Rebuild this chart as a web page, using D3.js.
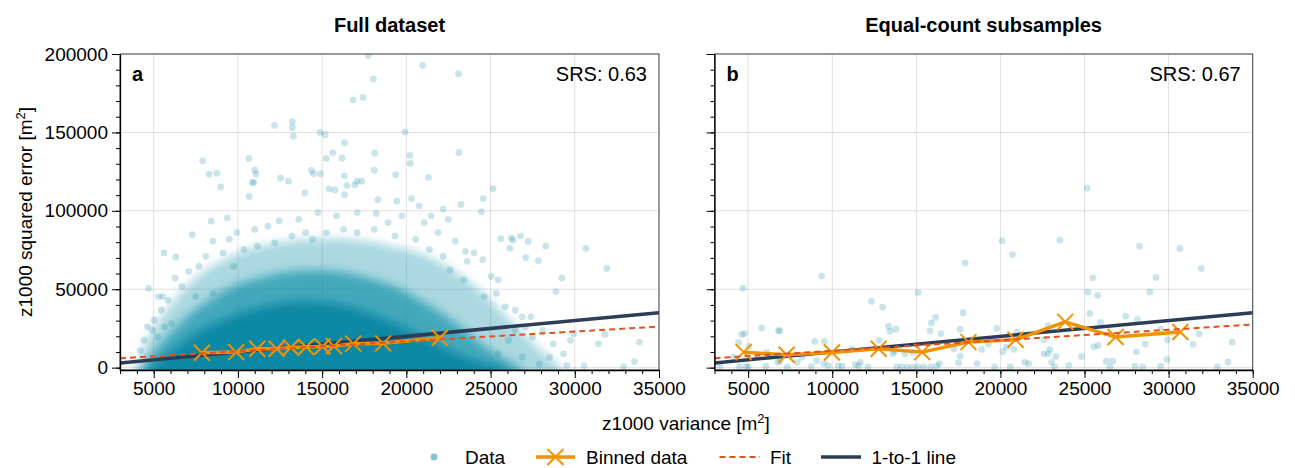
<!DOCTYPE html>
<html>
<head>
<meta charset="utf-8">
<script src="https://d3js.org/d3.v7.min.js"></script>
<style>
  body { margin: 0; background: #fff; }
  svg { font-family: "Liberation Sans", Arial, sans-serif; }
  .tick text { font-size: 19px; fill: #000; }
</style>
</head>
<body>
<svg id="chart" width="1295" height="468"></svg>
<script>
// ---- data ----
const xTicks = [5000, 10000, 15000, 20000, 25000, 30000, 35000];
const yTicks = [0, 50000, 100000, 150000, 200000];

// panel a: sparse points around the dense cloud [variance, squared error]
const fullPoints = [
  [20960,192800],[23100,187400],[18040,184000],[17740,199000],[16840,170800],[17430,172300],
  [12180,154500],[13230,156800],[13230,153200],[13290,147600],[14880,150000],[15190,148500],
  [19920,150200],[16330,143400],[23120,137200],[15630,137000],[15250,133400],[16180,133600],
  [18120,136800],[20210,135300],[20230,130200],[7900,131900],[10650,133400],[8290,123400],
  [8740,124000],[11000,125900],[11080,123400],[14370,125700],[14490,123600],[14900,123600],
  [18100,125900],[16310,122300],[19370,123000],[21310,121300],[12530,120800],[13000,118900],
  [10940,118100],[17080,118900],[17350,118900],
  [8980,115200],[10860,118200],[13980,111400],[15410,114000],[15760,113300],[16470,116100],
  [16330,110300],[16940,116500],[25150,114200],[24570,107900],[23250,104100],[24450,99400],
  [20310,107900],[19430,106200],[18310,107100],[10670,109200],[8410,93400],[7290,84800],
  [9370,95500],[5610,73200],[6310,70600],[4690,50600],[5290,45300],[5530,45300],
  [22190,101100],[26230,82600],[26330,81300],[25610,82200],[26780,83900],[27230,80500],
  [28270,77500],[30660,76000],[31900,63300],[29230,57100],[27840,68200],[28880,48500],
  [27100,70200],[26150,76200],[33840,16300],[33550,3900],[32900,500],[31800,21200],
  [31410,15200],[29940,21700],[29740,17400],[29330,8800],
  [9490,81800],[9940,86100],[11000,88200],[11780,90300],[12450,93600],[13610,94600],
  [14020,86100],[14740,98900],[15860,96800],[17080,98900],[18210,98300],[18920,92500],
  [19740,96800],[20760,103200],[21470,96800],[22490,94600],[21060,92500],[21880,86100],
  [22900,80700],[23510,74200],[24020,73200],[24530,68900],[23610,67800],[25040,58200],
  [25450,56000],[25350,47400],[24630,45300],[25860,38800],[26470,36700],[26880,32400],
  [27390,32400],[28100,23800],[27490,19500],[28720,15200],[27080,26000],[26470,23800],
  [26060,17400],[28510,6700],[27900,2400],[29530,1300],[30550,1300],[26880,6700],
  [25450,8800],[23410,56000],[22590,62400],[22190,71000],[21370,75300],[20550,81800],
  [19330,83900],[18100,88200],[17080,86100],[16270,88200],[15250,86100],[14430,81800],
  [13210,83900],[12180,79600],[11160,77500],[10350,75300],[9120,73200],[8510,80700],
  [8100,71000],[7690,64600],[7080,61400],[6270,57100],[6670,51700],[5860,43100],
  [5450,36700],[5040,30300],[4630,26000],[4430,17400],[4940,23800],[4220,10900],
  [5250,19500],[6060,28100],[5650,26000],[7490,45300],[8510,47400],[9740,64600]
];

// panel a: outlines of the dense part of the cloud (outer, middle, core) [variance, error]
const cloudOuter = [
  [3900,0],[4300,10000],[4700,20000],[5300,30000],[6000,40000],[6800,50000],[7800,60000],
  [9000,68000],[10500,75000],[12500,80000],[14500,82000],[16500,82000],[18500,79000],
  [20500,74000],[22000,67000],[23500,57000],[24800,45000],[26000,32000],[27200,19000],
  [28300,8000],[29200,0]
];
const cloudMiddle = [
  [4300,0],[5000,10000],[5800,20000],[6800,31000],[8000,41000],[9500,51000],[11500,58000],
  [13500,62000],[15500,62000],[17500,58000],[19500,51000],[21000,42000],[22500,32000],
  [23800,21000],[25000,11000],[26800,0]
];
const cloudCore = [
  [4800,0],[5600,7000],[6500,14000],[7500,22000],[8800,29000],[10500,36000],[12500,41000],
  [14500,42000],[16500,39000],[18500,32000],[20000,25000],[21500,17000],[23000,9000],
  [24500,3000],[25800,0]
];

// panel b: equal-count subsample points
const subPoints = [
  [25150,114400],[20100,80900],[23530,81300],[20720,72100],[17900,66700],[28270,77500],
  [30660,76000],[31940,63300],[9370,58400],[4690,50600],[15100,47900],[25210,48100],
  [25490,57300],[25780,46100],[29250,57500],[28880,48300],[12330,42300],[13000,38600],
  [5800,25300],[6800,23600],[6880,23600],[4630,21200],[4780,21700],[4430,15900],
  [5060,13500],[16140,32000],[15900,28500],[13350,26400],[13780,24500],[13430,23200],
  [15820,23400],[16470,21700],[17780,35000],[17610,24500],[19780,25100],[8960,16700],
  [9530,16700],[12800,17400],[25310,34600],[25960,28800],[27450,32800],[28150,30700],
  [29530,24700],[31820,21500],[31450,14800],[33780,16300],[29940,17800],[28610,15000],
  [28080,10100],[29900,5200],[33530,3600],[32900,400],[29530,900],[28000,900],
  [28450,300],[25550,13300],[25800,14200],[26290,4100],[26680,4100],[26510,400],
  [24820,7100],[24060,1500],[23210,400],[23290,7100],[23040,3400],[22590,8800],
  [22840,9000],[22940,11600],[22840,26800],[22590,17800],[21450,3400],[21680,2600],
  [20590,400],[20800,11800],[20350,13100],[20140,10300],[20980,22700],[20470,20000],
  [19290,15000],[19650,400],[18610,2600],[17510,3000],[17610,7300],[18880,11600],
  [17230,12000],[16370,2600],[16210,900],[15860,400],[15450,400],[15100,400],
  [14800,300],[14470,400],[14140,400],[13840,400],[14330,8800],[14780,9700],
  [13610,8800],[13720,10500],[12120,300],[11670,3400],[11370,1900],[11570,1100],
  [11160,12000],[10350,1100],[10590,900],[9760,1300],[9490,2600],[9080,4500],
  [8200,6700],[8760,600],[7920,3400],[6760,3400],[6900,4300],[6060,900],
  [7330,300],[6120,9700],[5020,400],[4880,400],[4490,400],[3330,400],[4140,6700]
];

// binned means
const binnedFull = [
  [7860,9500],[9900,9900],[11150,12000],[12300,12000],[13150,12800],[14050,13200],
  [15020,13500],[15700,13700],[16850,15300],[18620,15500],[21990,19100]
];
const binnedSub = [
  [4730,9900],[7290,8200],[9980,9700],[12760,12000],[15350,9900],[18100,16300],
  [20900,17800],[23850,29200],[26850,19500],[30700,22700]
];

// fitted lines and the 1-to-1 reference, as end points
const fitFull = [[3000,6000],[35000,26200]];
const fitSub = [[3000,6000],[35000,27500]];
const oneToOne = [[3000,3000],[35000,35000]];

// ---- drawing ----
const svg = d3.select("#chart");
const plotTop = 54, plotBottom = 370;
const teal = "#0a88a4", orange = "#f39200", fitColor = "#e2521c", navy = "#2b3d57";

const defs = svg.append("defs");
defs.append("filter").attr("id", "soft")
  .attr("x", "-15%").attr("y", "-15%").attr("width", "130%").attr("height", "130%")
  .append("feGaussianBlur").attr("stdDeviation", 5);

const panels = [
  { key: "a", title: "Full dataset", srs: "SRS: 0.63", left: 120, right: 659,
    points: fullPoints, binned: binnedFull, fit: fitFull, labels: true, cloud: true },
  { key: "b", title: "Equal-count subsamples", srs: "SRS: 0.67", left: 714.5, right: 1252.7,
    points: subPoints, binned: binnedSub, fit: fitSub, labels: false, cloud: false }
];

panels.forEach((p, i) => {
  const x = d3.scaleLinear().domain([3000, 35000]).range([p.left, p.right]);
  const y = d3.scaleLinear().domain([-1500, 200000]).range([plotBottom, plotTop]);
  const g = svg.append("g");

  defs.append("clipPath").attr("id", "clip" + i)
    .append("rect").attr("x", p.left).attr("y", plotTop)
    .attr("width", p.right - p.left).attr("height", plotBottom - plotTop);

  // grid
  const grid = g.append("g").attr("stroke", "#000").attr("stroke-opacity", 0.12);
  grid.selectAll(".gx").data(xTicks).enter().append("line")
    .attr("x1", d => x(d)).attr("x2", d => x(d)).attr("y1", plotTop).attr("y2", plotBottom);
  grid.selectAll(".gy").data(yTicks).enter().append("line")
    .attr("y1", d => y(d)).attr("y2", d => y(d)).attr("x1", p.left).attr("x2", p.right);

  const plot = g.append("g").attr("clip-path", `url(#clip${i})`);

  if (p.cloud) {
    const area = d3.area().x(d => x(d[0])).y0(y(-12000)).y1(d => y(d[1]))
      .curve(d3.curveCatmullRom);
    [[cloudOuter, 0.33], [cloudMiddle, 0.6], [cloudCore, 1]].forEach(([c, o]) => {
      plot.append("path").attr("d", area(c)).attr("fill", teal)
        .attr("fill-opacity", o).attr("filter", "url(#soft)");
    });
  }

  plot.selectAll(".pt").data(p.points).enter().append("circle")
    .attr("cx", d => x(d[0])).attr("cy", d => y(d[1])).attr("r", 3.4)
    .attr("fill", teal).attr("fill-opacity", 0.22);

  const line = d3.line().x(d => x(d[0])).y(d => y(d[1]));

  plot.append("path").attr("d", line(oneToOne)).attr("fill", "none")
    .attr("stroke", navy).attr("stroke-width", 3.5);

  plot.append("path").attr("d", line(p.binned)).attr("fill", "none")
    .attr("stroke", orange).attr("stroke-width", 3.5).attr("stroke-linejoin", "round");
  plot.selectAll(".mk").data(p.binned).enter().append("path")
    .attr("transform", d => `translate(${x(d[0])},${y(d[1])})`)
    .attr("d", "M-8,-8L8,8M-8,8L8,-8")
    .attr("stroke", orange).attr("stroke-width", 2).attr("fill", "none");

  plot.append("path").attr("d", line(p.fit)).attr("fill", "none")
    .attr("stroke", fitColor).attr("stroke-width", 2).attr("stroke-dasharray", "6,4");

  // frame
  g.append("rect").attr("x", p.left).attr("y", plotTop)
    .attr("width", p.right - p.left).attr("height", plotBottom - plotTop)
    .attr("fill", "none").attr("stroke", "#444").attr("stroke-width", 1);

  // axes
  const xMinor = d3.range(3000, 35001, 1000);
  const yMinor = d3.range(0, 200001, 10000);
  g.append("g").attr("transform", `translate(0,${plotBottom})`)
    .call(d3.axisBottom(x).tickValues(xMinor).tickSize(4).tickFormat(""))
    .call(a => a.select(".domain").remove());
  g.append("g").attr("transform", `translate(0,${plotBottom})`)
    .call(d3.axisBottom(x).tickValues(xTicks).tickSize(8).tickPadding(4)
      .tickSizeOuter(0).tickFormat(d => d))
    .call(a => a.select(".domain").attr("stroke-width", 1.3));
  g.append("g").attr("transform", `translate(${p.left},0)`)
    .call(d3.axisLeft(y).tickValues(yMinor).tickSize(4).tickFormat(""))
    .call(a => a.select(".domain").remove());
  g.append("g").attr("transform", `translate(${p.left},0)`)
    .call(d3.axisLeft(y).tickValues(yTicks).tickSize(8).tickPadding(4)
      .tickSizeOuter(0).tickFormat(p.labels ? (d => d) : ""))
    .call(a => a.select(".domain").attr("stroke-width", 1.3));
  g.selectAll(".tick line").attr("stroke", "#000");
  g.selectAll(".tick text").attr("font-family", null).attr("font-size", null);

  // texts
  g.append("text").attr("x", (p.left + p.right) / 2).attr("y", 32)
    .attr("text-anchor", "middle").attr("font-size", 20).attr("font-weight", "bold")
    .text(p.title);
  g.append("text").attr("x", p.left + 12).attr("y", 81)
    .attr("font-size", 20).attr("font-weight", "bold").text(p.key);
  g.append("text").attr("x", p.right - 12).attr("y", 81)
    .attr("text-anchor", "end").attr("font-size", 20).text(p.srs);
});

// axis titles
const yl = svg.append("text").attr("transform", "translate(32,212) rotate(-90)")
  .attr("text-anchor", "middle").attr("font-size", 19);
yl.append("tspan").text("z1000 squared error [m");
yl.append("tspan").attr("font-size", 13).attr("dy", -7).text("2");
yl.append("tspan").attr("dy", 7).text("]");

const xl = svg.append("text").attr("x", 686).attr("y", 430)
  .attr("text-anchor", "middle").attr("font-size", 19);
xl.append("tspan").text("z1000 variance [m");
xl.append("tspan").attr("font-size", 13).attr("dy", -7).text("2");
xl.append("tspan").attr("dy", 7).text("]");

// legend
const ly = 457;
const lg = svg.append("g").attr("font-size", 19);
lg.append("circle").attr("cx", 434).attr("cy", ly).attr("r", 3.4)
  .attr("fill", teal).attr("fill-opacity", 0.5);
lg.append("text").attr("x", 465).attr("y", ly + 7).text("Data");
lg.append("line").attr("x1", 536).attr("x2", 575).attr("y1", ly).attr("y2", ly)
  .attr("stroke", orange).attr("stroke-width", 3.5);
lg.append("path").attr("transform", `translate(555.5,${ly})`).attr("d", "M-8,-8L8,8M-8,8L8,-8")
  .attr("stroke", orange).attr("stroke-width", 2);
lg.append("text").attr("x", 586).attr("y", ly + 7).text("Binned data");
lg.append("line").attr("x1", 719.5).attr("x2", 760).attr("y1", ly).attr("y2", ly)
  .attr("stroke", fitColor).attr("stroke-width", 2).attr("stroke-dasharray", "6,4");
lg.append("text").attr("x", 770).attr("y", ly + 7).text("Fit");
lg.append("line").attr("x1", 821).attr("x2", 861).attr("y1", ly).attr("y2", ly)
  .attr("stroke", navy).attr("stroke-width", 3.5);
lg.append("text").attr("x", 871.5).attr("y", ly + 7).text("1-to-1 line");
</script>
</body>
</html>
